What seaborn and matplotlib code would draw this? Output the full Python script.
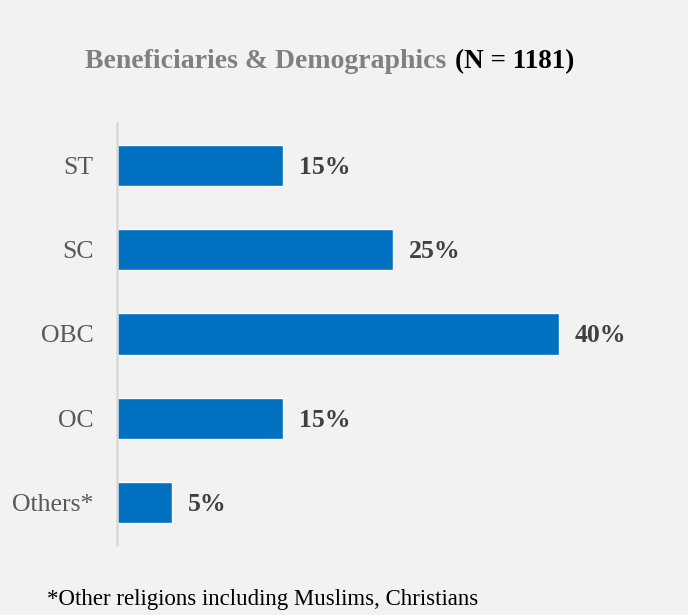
import matplotlib
matplotlib.use("Agg")
import matplotlib.pyplot as plt
import seaborn as sns
import pandas as pd

categories = ["ST", "SC", "OBC", "OC", "Others*"]
shares = [15, 25, 40, 15, 5]
value_labels = ["15%", "25%", "40%", "15%", "5%"]

title_main = "Beneficiaries & Demographics"
title_n = "(N = 1181)"
footnote = "*Other religions including Muslims, Christians"

BG = "#f2f2f2"
BAR = "#0070c0"

sns.set_theme(style="white")
plt.rcParams["font.family"] = ["Liberation Serif", "DejaVu Serif"]

df = pd.DataFrame({"category": categories, "share": shares})

fig = plt.figure(figsize=(6.88, 6.15), dpi=100, facecolor=BG)
ax = fig.add_axes([117 / 688, 70 / 615, 552 / 688, 422 / 615])
ax.set_facecolor(BG)

sns.barplot(data=df, x="share", y="category", order=categories,
            color=BAR, saturation=1, width=0.49, ax=ax)

ax.set_xlim(0, 50)
ax.set_ylim(4.5, -0.5)
ax.set_xlabel("")
ax.set_ylabel("")
ax.set_xticks([])
ax.tick_params(axis="y", length=0, pad=17, labelsize=18.5, labelcolor="#595959")

for side in ["top", "right", "bottom"]:
    ax.spines[side].set_visible(False)
ax.spines["left"].set_color("#d9d9d9")
ax.spines["left"].set_linewidth(1.8)

for i, (v, lab) in enumerate(zip(shares, value_labels)):
    ax.annotate(lab, xy=(v, i), xytext=(16, -2), textcoords="offset pixels",
                ha="left", va="center", fontsize=18.5, fontweight="bold",
                color="#404040")

fig.text(446 / 688, 1 - 62 / 615, title_main, ha="right", va="center",
         fontsize=20, fontweight="bold", color="#808080")
fig.text(455 / 688, 1 - 62 / 615, title_n, ha="left", va="center",
         fontsize=19.5, fontweight="bold", color="#000000")

fig.text(47 / 688, 1 - 600 / 615, footnote, ha="left", va="center",
         fontsize=16.5, color="#000000")

fig.savefig("out.png", dpi=100, facecolor=BG)
